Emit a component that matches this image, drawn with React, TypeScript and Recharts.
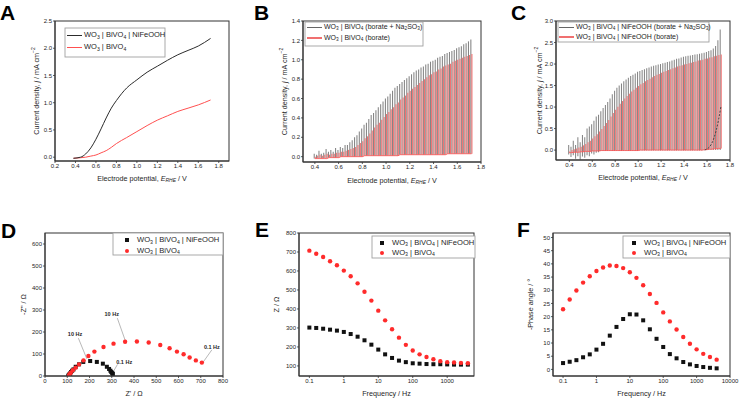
import React from "react";
import {
  Bar,
  ComposedChart,
  Label,
  Line,
  ReferenceDot,
  ReferenceLine,
  Scatter,
  XAxis,
  YAxis,
} from "recharts";

const FONT = '"Liberation Sans", Arial, Helvetica, sans-serif';
const INK = "#1e1e1e";
const LINE_BLACK = "#2c2c2c";
const LINE_RED = "#ff5050";
const CHOP_GRAY = "#858585";
const CHOP_RED = "#f07070";
const DOT_RED = "#ff2b2b";
const DOT_BLACK = "#111111";

// ---- A: linear sweep voltammetry
const lsvPotential = [0.38, 0.45, 0.5, 0.55, 0.6, 0.65, 0.7, 0.75, 0.8, 0.9, 1.0, 1.1, 1.2, 1.3, 1.4, 1.5, 1.6, 1.72];
const lsvNiFeOOH = [-0.02, 0.0, 0.06, 0.17, 0.33, 0.52, 0.72, 0.9, 1.04, 1.27, 1.42, 1.56, 1.67, 1.78, 1.88, 1.96, 2.04, 2.18];
const lsvBare = [-0.02, -0.01, 0.0, 0.02, 0.04, 0.08, 0.12, 0.18, 0.25, 0.36, 0.47, 0.58, 0.68, 0.76, 0.84, 0.9, 0.96, 1.05];

// ---- B, C: chopped light sweeps (one entry per light pulse)
const chopPotential = [
  0.4, 0.42, 0.44, 0.46, 0.48, 0.5, 0.52, 0.54, 0.56, 0.58,
  0.6, 0.62, 0.64, 0.66, 0.68, 0.7, 0.72, 0.74, 0.76, 0.78,
  0.8, 0.82, 0.84, 0.86, 0.88, 0.9, 0.92, 0.94, 0.96, 0.98,
  1.0, 1.02, 1.04, 1.06, 1.08, 1.1, 1.12, 1.14, 1.16, 1.18,
  1.2, 1.22, 1.24, 1.26, 1.28, 1.3, 1.32, 1.34, 1.36, 1.38,
  1.4, 1.42, 1.44, 1.46, 1.48, 1.5, 1.52, 1.54, 1.56, 1.58,
  1.6, 1.62, 1.64, 1.66, 1.68, 1.7, 1.72,
];
const bSulfite = [
  0.03, 0.02, 0.06, 0.03, 0.04, 0.08, 0.05, 0.07, 0.05, 0.09,
  0.07, 0.1, 0.09, 0.12, 0.12, 0.15, 0.17, 0.2, 0.22, 0.26,
  0.29, 0.33, 0.35, 0.39, 0.43, 0.45, 0.48, 0.51, 0.54, 0.57,
  0.6, 0.62, 0.65, 0.68, 0.71, 0.73, 0.75, 0.77, 0.79, 0.81,
  0.83, 0.85, 0.87, 0.89, 0.9, 0.92, 0.93, 0.95, 0.96, 0.98,
  0.99, 1.0, 1.02, 1.03, 1.04, 1.06, 1.07, 1.08, 1.09, 1.1,
  1.12, 1.13, 1.14, 1.16, 1.17, 1.19, 1.21,
];
const bBorate = [
  0.0, 0.01, 0.02, 0.01, 0.02, 0.03, 0.02, 0.03, 0.03, 0.04,
  0.04, 0.05, 0.05, 0.06, 0.07, 0.08, 0.09, 0.1, 0.12, 0.14,
  0.16, 0.19, 0.21, 0.24, 0.27, 0.3, 0.33, 0.35, 0.38, 0.41,
  0.44, 0.46, 0.49, 0.51, 0.54, 0.56, 0.59, 0.61, 0.63, 0.66,
  0.68, 0.7, 0.72, 0.74, 0.76, 0.78, 0.8, 0.82, 0.84, 0.85,
  0.87, 0.88, 0.9, 0.91, 0.93, 0.94, 0.95, 0.96, 0.98, 0.99,
  1.0, 1.01, 1.02, 1.03, 1.04, 1.05, 1.06,
];
const bDark = [
  -0.02, -0.02, -0.02, -0.02, -0.02, -0.02, -0.01, -0.01, -0.01, -0.01,
  -0.01, 0.0, 0.0, 0.0, 0.0, 0.0, 0.0, 0.0, 0.0, 0.0,
  0.0, 0.01, 0.01, 0.01, 0.01, 0.01, 0.01, 0.01, 0.01, 0.01,
  0.01, 0.01, 0.01, 0.01, 0.01, 0.01, 0.02, 0.02, 0.02, 0.02,
  0.02, 0.02, 0.02, 0.02, 0.02, 0.02, 0.02, 0.02, 0.02, 0.02,
  0.02, 0.02, 0.02, 0.02, 0.02, 0.02, 0.03, 0.03, 0.03, 0.03,
  0.03, 0.03, 0.03, 0.03, 0.03, 0.03, 0.03,
];
const cSulfite = [
  0.12, 0.08, 0.22, 0.12, 0.3, 0.18, 0.35, 0.3, 0.5, 0.55,
  0.6, 0.68, 0.78, 0.82, 0.9, 0.98, 1.05, 1.12, 1.2, 1.3,
  1.38, 1.45, 1.5, 1.55, 1.6, 1.64, 1.68, 1.72, 1.75, 1.78,
  1.82, 1.84, 1.86, 1.88, 1.9, 1.92, 1.94, 1.96, 1.97, 1.99,
  2.0, 2.02, 2.03, 2.05, 2.06, 2.08, 2.1, 2.12, 2.13, 2.15,
  2.17, 2.18, 2.19, 2.2, 2.21, 2.22, 2.23, 2.24, 2.25, 2.26,
  2.28, 2.3, 2.32, 2.36, 2.42, 2.55, 2.8,
];
const cSulfiteLow = [
  -0.1, -0.16, -0.12, -0.2, -0.14, -0.22, -0.15, -0.18, -0.12, -0.14,
  -0.08, -0.1, -0.06, -0.05, -0.02, -0.02, -0.02, -0.02, -0.02, -0.02,
  -0.02, -0.02, -0.02, -0.02, -0.02, -0.02, -0.02, -0.02, -0.02, -0.02,
  -0.02, -0.01, -0.01, -0.01, -0.01, -0.01, -0.01, -0.01, -0.01, -0.01,
  -0.01, -0.01, -0.01, -0.01, -0.01, -0.01, -0.01, -0.01, -0.01, -0.01,
  -0.01, -0.01, -0.01, -0.01, -0.01, -0.01, -0.01, -0.01, -0.01, 0.0,
  0.0, 0.0, 0.0, 0.0, 0.0, 0.0, 0.0,
];
const cBorate = [
  -0.03, 0.0, 0.02, 0.04, 0.06, 0.08, 0.11, 0.14, 0.18, 0.22,
  0.27, 0.32, 0.37, 0.43, 0.49, 0.56, 0.63, 0.7, 0.78, 0.86,
  0.94, 1.01, 1.08, 1.14, 1.2, 1.26, 1.31, 1.36, 1.4, 1.45,
  1.49, 1.53, 1.56, 1.6, 1.63, 1.66, 1.69, 1.72, 1.75, 1.77,
  1.8, 1.82, 1.84, 1.86, 1.88, 1.9, 1.92, 1.94, 1.96, 1.97,
  1.99, 2.0, 2.02, 2.03, 2.05, 2.06, 2.08, 2.09, 2.1, 2.12,
  2.13, 2.15, 2.16, 2.18, 2.19, 2.21, 2.22,
];
const cDark = [
  -0.06, -0.06, -0.05, -0.05, -0.05, -0.04, -0.04, -0.03, -0.03, -0.03,
  -0.02, -0.02, -0.02, -0.02, -0.01, -0.01, -0.01, -0.01, -0.01, -0.01,
  -0.01, -0.01, -0.01, -0.01, -0.01, -0.01, -0.01, -0.01, -0.01, -0.01,
  -0.01, 0.0, 0.0, 0.0, 0.0, 0.0, 0.0, 0.0, 0.0, 0.0,
  0.0, 0.0, 0.0, 0.0, 0.0, 0.0, 0.0, 0.0, 0.0, 0.0,
  0.0, 0.0, 0.0, 0.0, 0.0, 0.0, 0.0, 0.0, 0.0, 0.01,
  0.01, 0.02, 0.02, 0.03, 0.03, 0.04, 0.04,
];
const cOnsetPotential = [1.58, 1.6, 1.62, 1.64, 1.66, 1.68, 1.7, 1.72];
const cOnsetCurrent = [0.0, 0.03, 0.07, 0.15, 0.28, 0.46, 0.7, 1.0];

// ---- D: Nyquist
const nyqNiRe = [105, 107, 110, 113, 117, 122, 128, 138, 153, 172, 203, 233, 260, 278, 288, 294, 298, 302, 305];
const nyqNiIm = [1, 4, 8, 12, 18, 24, 30, 42, 53, 64, 68, 64, 56, 42, 32, 24, 18, 13, 10];
const nyqBareRe = [108, 110, 116, 125, 138, 153, 173, 195, 222, 263, 308, 360, 413, 466, 518, 560, 593, 623, 650, 678, 705];
const nyqBareIm = [3, 8, 15, 26, 38, 53, 71, 91, 111, 132, 147, 156, 157, 152, 141, 126, 111, 99, 84, 71, 61];
const nyquistNotes = [
  { text: "10 Hz", tx: 135, ty: 192, x1: 150, y1: 172, x2: 188, y2: 78 },
  { text: "10 Hz", tx: 300, ty: 281, x1: 325, y1: 263, x2: 360, y2: 163 },
  { text: "0.1 Hz", tx: 356, ty: 64, x1: 326, y1: 53, x2: 302, y2: 11 },
  { text: "0.1 Hz", tx: 750, ty: 133, x1: 750, y1: 119, x2: 710, y2: 62 },
];

// ---- E, F: Bode
const bodeFreq = [0.1, 0.158, 0.251, 0.398, 0.631, 1, 1.58, 2.51, 3.98, 6.31, 10, 15.8, 25.1, 39.8, 63.1, 100, 158, 251, 398, 631, 1000, 1580, 2510, 3980];
const bodeZNi = [302, 300, 296, 291, 286, 279, 268, 254, 235, 212, 186, 161, 142, 128, 120, 114, 112, 110, 109, 109, 108, 107, 107, 107];
const bodeZBare = [707, 691, 674, 651, 630, 602, 572, 535, 491, 444, 391, 340, 293, 249, 211, 181, 161, 147, 135, 125, 120, 118, 116, 114];
const phaseNi = [2.4, 2.9, 3.5, 4.6, 5.7, 7.5, 9.7, 12.8, 16.1, 19.1, 20.9, 20.8, 18.6, 15.2, 11.6, 8.5, 5.8, 4.2, 2.8, 1.9, 1.3, 0.9, 0.6, 0.4];
const phaseBare = [22.8, 26.5, 29.9, 32.9, 35.3, 37.3, 38.6, 39.4, 39.2, 38.4, 36.8, 34.7, 31.9, 28.6, 25.2, 21.6, 18.2, 15.1, 12.3, 9.7, 7.6, 5.9, 4.7, 3.7];

// ---- tick labels
const potTicksA = [0.2, 0.4, 0.6, 0.8, 1.0, 1.2, 1.4, 1.6, 1.8];
const potTicksBC = [0.4, 0.6, 0.8, 1.0, 1.2, 1.4, 1.6, 1.8];
const jTicksA = [0, 0.5, 1.0, 1.5, 2.0, 2.5];
const jTicksB = [0, 0.2, 0.4, 0.6, 0.8, 1.0, 1.2, 1.4];
const jTicksC = [0, 0.5, 1.0, 1.5, 2.0, 2.5, 3.0];
const zReTicks = [0, 100, 200, 300, 400, 500, 600, 700, 800];
const zImTicks = [0, 100, 200, 300, 400, 500, 600];
const freqTicksE = [0.1, 1, 10, 100, 1000];
const freqTicksF = [0.1, 1, 10, 100, 1000, 10000];
const zModTicks = [100, 200, 300, 400, 500, 600, 700, 800];
const phaseTicks = [0, 5, 10, 15, 20, 25, 30, 35, 40, 45, 50];

const f1 = (v: number) => v.toFixed(1);

const axisProps = {
  tick: { fontSize: 6, fill: INK, fontFamily: FONT },
  tickSize: 2,
  tickMargin: 1,
  axisLine: { stroke: "#333", strokeWidth: 1 },
  tickLine: { stroke: "#333", strokeWidth: 0.8 },
  interval: 0 as const,
  allowDataOverflow: true,
};

const TITLE_SIZE = 7.2;
const Y_W = 40;

type Margin = { top: number; right: number; bottom: number; left: number };

// svg box outline, drawn over an absolutely placed area
function Outline({ left, top, width, height, color, sw }: { left: number; top: number; width: number; height: number; color: string; sw: number }) {
  return (
    <svg
      width={width + 2}
      height={height + 2}
      style={{ position: "absolute", left: left - 1, top: top - 1, pointerEvents: "none", overflow: "visible" }}
    >
      <rect x={1} y={1} width={width} height={height} fill="none" stroke={color} strokeWidth={sw} />
    </svg>
  );
}

// box line around the plot area, computed from the same margins as the chart
function PlotFrame({ w, h, m, xh }: { w: number; h: number; m: Margin; xh: number }) {
  const left = m.left + Y_W;
  const right = w - m.right;
  const bottom = h - m.bottom - xh;
  return <Outline left={left} top={m.top} width={right - left} height={bottom - m.top} color="#333" sw={1} />;
}

function xTitle(children: React.ReactNode, dy: number) {
  return (props: any) => {
    const vb = props.viewBox;
    return (
      <text
        x={vb.x + vb.width / 2}
        y={vb.y + dy}
        textAnchor="middle"
        dominantBaseline="central"
        fontSize={TITLE_SIZE}
        fontFamily={FONT}
        fill={INK}
      >
        {children}
      </text>
    );
  };
}

function yTitle(children: React.ReactNode, off: number) {
  return (props: any) => {
    const vb = props.viewBox;
    const cx = vb.x + vb.width - off;
    const cy = vb.y + vb.height / 2;
    return (
      <text
        transform={`translate(${cx},${cy}) rotate(-90)`}
        textAnchor="middle"
        dominantBaseline="central"
        fontSize={TITLE_SIZE}
        fontFamily={FONT}
        fill={INK}
      >
        {children}
      </text>
    );
  };
}

const potentialTitle = (
  <>
    <tspan>Electrode potential, </tspan>
    <tspan fontStyle="italic">E</tspan>
    <tspan fontStyle="italic" fontSize={5} dy={2}>RHE</tspan>
    <tspan dy={-2}> / V</tspan>
  </>
);

const currentTitle = (
  <>
    <tspan>Current density, </tspan>
    <tspan fontStyle="italic">j</tspan>
    <tspan> / mA cm</tspan>
    <tspan fontSize={5} dy={-3}>−2</tspan>
  </>
);

const square = (p: any) => (
  <rect x={p.cx - 2} y={p.cy - 2} width={4} height={4} fill={DOT_BLACK} />
);
const circle = (p: any) => <circle cx={p.cx} cy={p.cy} r={2.2} fill={DOT_RED} />;

function Sub({ children }: { children: React.ReactNode }) {
  return (
    <span style={{ fontSize: "0.68em", position: "relative", top: "0.3em" }}>
      {children}
    </span>
  );
}

const NameNi = (
  <>
    WO<Sub>3</Sub> | BiVO<Sub>4</Sub> | NiFeOOH
  </>
);
const NameBare = (
  <>
    WO<Sub>3</Sub> | BiVO<Sub>4</Sub>
  </>
);

type LegendRow = {
  mark: "line" | "square" | "circle";
  color: string;
  weight?: number;
  label: React.ReactNode;
};

function LegendBox(props: {
  left: number;
  top: number;
  width: number;
  height: number;
  rowTop: number;
  rowGap: number;
  markLeft: number;
  markWidth: number;
  textLeft: number;
  fontSize: number;
  rows: LegendRow[];
}) {
  const { left, top, width, height, rowTop, rowGap, markLeft, markWidth, textLeft, fontSize, rows } = props;
  return (
    <div
      style={{
        position: "absolute",
        left,
        top,
        width,
        height,
        background: "#fff",
        fontFamily: FONT,
        fontSize,
        color: INK,
      }}
    >
      <Outline left={0} top={0} width={width} height={height} color="#a0a0a0" sw={0.9} />
      {rows.map((r, i) => {
        const cy = rowTop + i * rowGap;
        return (
          <React.Fragment key={i}>
            {r.mark === "line" ? (
              <div
                style={{
                  position: "absolute",
                  left: markLeft,
                  top: cy - (r.weight ?? 1) / 2,
                  width: markWidth,
                  height: r.weight ?? 1,
                  background: r.color,
                }}
              />
            ) : (
              <div
                style={{
                  position: "absolute",
                  left: markLeft - 2,
                  top: cy - 2,
                  width: 4,
                  height: 4,
                  background: r.color,
                  borderRadius: r.mark === "circle" ? "50%" : 0,
                }}
              />
            )}
            <div
              style={{
                position: "absolute",
                left: textLeft,
                top: cy,
                transform: "translateY(-50%)",
                whiteSpace: "nowrap",
                lineHeight: 1,
              }}
            >
              {r.label}
            </div>
          </React.Fragment>
        );
      })}
    </div>
  );
}

function Letter({ ch, x, y }: { ch: string; x: number; y: number }) {
  return (
    <div
      style={{
        position: "absolute",
        left: x,
        top: y,
        fontFamily: FONT,
        fontWeight: 700,
        fontSize: 21,
        lineHeight: 1,
        color: "#000",
      }}
    >
      {ch}
    </div>
  );
}

function PanelA() {
  const rows = lsvPotential.map((e, i) => ({ e, ni: lsvNiFeOOH[i], bare: lsvBare[i] }));
  const m = { top: 21, right: 16, bottom: 9, left: 15 };
  return (
    <div style={{ position: "absolute", left: 0, top: 0, width: 245, height: 200 }}>
      <ComposedChart width={245} height={200} data={rows} margin={m}>
        <XAxis dataKey="e" type="number" domain={[0.2, 1.9]} ticks={potTicksA} tickFormatter={f1} height={30} {...axisProps}>
          <Label content={xTitle(potentialTitle, 17)} />
        </XAxis>
        <YAxis type="number" domain={[-0.07, 2.5]} ticks={jTicksA} tickFormatter={f1} width={Y_W} {...axisProps}>
          <Label content={yTitle(currentTitle, 19)} />
        </YAxis>
        <Line type="monotone" dataKey="bare" stroke={LINE_RED} strokeWidth={1} dot={false} isAnimationActive={false} />
        <Line type="monotone" dataKey="ni" stroke={LINE_BLACK} strokeWidth={1} dot={false} isAnimationActive={false} />
      </ComposedChart>
      <PlotFrame w={245} h={200} m={m} xh={30} />
    </div>
  );
}

function chopRows(sulfite: number[], sulfiteLow: number[], borate: number[], dark: number[]) {
  return chopPotential.map((e, i) => ({
    e,
    sulfite: [sulfiteLow[i], sulfite[i]],
    borate: [dark[i], borate[i]],
    dark: dark[i],
  }));
}

function PanelB() {
  const rows = chopRows(bSulfite, bDark, bBorate, bDark);
  const m = { top: 21, right: 9, bottom: 8, left: 18 };
  return (
    <div style={{ position: "absolute", left: 245, top: 0, width: 245, height: 200 }}>
      <ComposedChart width={245} height={200} data={rows} barGap={0} barCategoryGap={0} margin={m}>
        <XAxis dataKey="e" type="number" domain={[0.3, 1.8]} ticks={potTicksBC} tickFormatter={f1} height={30} {...axisProps}>
          <Label content={xTitle(potentialTitle, 18)} />
        </XAxis>
        <YAxis type="number" domain={[-0.055, 1.4]} ticks={jTicksB} tickFormatter={f1} width={Y_W} {...axisProps}>
          <Label content={yTitle(currentTitle, 19)} />
        </YAxis>
        <Bar dataKey="sulfite" fill={CHOP_GRAY} barSize={1.3} isAnimationActive={false} />
        <Bar dataKey="borate" fill={CHOP_RED} barSize={1.3} isAnimationActive={false} />
        <Line type="linear" dataKey="dark" stroke={LINE_RED} strokeWidth={0.8} dot={false} isAnimationActive={false} />
      </ComposedChart>
      <PlotFrame w={245} h={200} m={m} xh={30} />
    </div>
  );
}

function PanelC() {
  const rows = chopRows(cSulfite, cSulfiteLow, cBorate, cDark);
  const onset = cOnsetPotential.map((e, i) => ({ e, onset: cOnsetCurrent[i] }));
  const m = { top: 21, right: 9, bottom: 10, left: 26 };
  return (
    <div style={{ position: "absolute", left: 490, top: 0, width: 249, height: 200 }}>
      <ComposedChart width={249} height={200} data={rows} barGap={0} barCategoryGap={0} margin={m}>
        <XAxis dataKey="e" type="number" domain={[0.284, 1.8]} ticks={potTicksBC} tickFormatter={f1} height={30} {...axisProps}>
          <Label content={xTitle(potentialTitle, 17)} />
        </XAxis>
        <YAxis type="number" domain={[-0.23, 3.0]} ticks={jTicksC} tickFormatter={f1} width={Y_W} {...axisProps}>
          <Label content={yTitle(currentTitle, 17)} />
        </YAxis>
        <Bar dataKey="sulfite" fill={CHOP_GRAY} barSize={1.3} isAnimationActive={false} />
        <Bar dataKey="borate" fill={CHOP_RED} barSize={1.3} isAnimationActive={false} />
        <Line type="linear" dataKey="dark" stroke={LINE_RED} strokeWidth={0.8} dot={false} isAnimationActive={false} />
        <Line data={onset} type="monotone" dataKey="onset" stroke="#3a3a3a" strokeWidth={0.9} strokeDasharray="2 1.5" dot={false} isAnimationActive={false} />
      </ComposedChart>
      <PlotFrame w={249} h={200} m={m} xh={30} />
    </div>
  );
}

function PanelD() {
  const ni = nyqNiRe.map((x, i) => ({ x, y: nyqNiIm[i] }));
  const bare = nyqBareRe.map((x, i) => ({ x, y: nyqBareIm[i] }));
  const m = { top: 33, right: 22, bottom: 3, left: 5 };
  return (
    <div style={{ position: "absolute", left: 0, top: 200, width: 245, height: 199 }}>
      <ComposedChart width={245} height={199} margin={m}>
        <XAxis dataKey="x" type="number" domain={[0, 800]} ticks={zReTicks} height={20} {...axisProps}>
          <Label content={xTitle(<tspan>Z' / Ω</tspan>, 17)} />
        </XAxis>
        <YAxis dataKey="y" type="number" domain={[0, 650]} ticks={zImTicks} width={Y_W} {...axisProps}>
          <Label content={yTitle(<tspan>-Z'' / Ω</tspan>, 22)} />
        </YAxis>
        {nyquistNotes.map((n, i) => (
          <ReferenceLine
            key={`l${i}`}
            segment={[{ x: n.x1, y: n.y1 }, { x: n.x2, y: n.y2 }]}
            stroke="#9a9a9a"
            strokeWidth={0.7}
          />
        ))}
        <Scatter data={ni} dataKey="y" shape={square} isAnimationActive={false} />
        <Scatter data={bare} dataKey="y" shape={circle} isAnimationActive={false} />
        {nyquistNotes.map((n, i) => (
          <ReferenceDot
            key={`t${i}`}
            x={n.tx}
            y={n.ty}
            r={0}
            fill="none"
            stroke="none"
            label={{ value: n.text, position: "center", fontSize: 5.5, fontWeight: 700, fill: INK, fontFamily: FONT }}
          />
        ))}
      </ComposedChart>
      <PlotFrame w={245} h={199} m={m} xh={20} />
    </div>
  );
}

function PanelE() {
  const ni = bodeFreq.map((f, i) => ({ f, z: bodeZNi[i] }));
  const bare = bodeFreq.map((f, i) => ({ f, z: bodeZBare[i] }));
  const m = { top: 33, right: 16, bottom: 3, left: 14 };
  return (
    <div style={{ position: "absolute", left: 245, top: 200, width: 245, height: 199 }}>
      <ComposedChart width={245} height={199} margin={m}>
        <XAxis dataKey="f" type="number" scale="log" domain={[0.05, 6000]} ticks={freqTicksE} tickFormatter={(v: number) => String(v)} height={20} {...axisProps}>
          <Label content={xTitle(<tspan>Frequency / Hz</tspan>, 17)} />
        </XAxis>
        <YAxis dataKey="z" type="number" domain={[47, 800]} ticks={zModTicks} width={Y_W} {...axisProps}>
          <Label content={yTitle(<tspan>Z / Ω</tspan>, 23)} />
        </YAxis>
        <Scatter data={ni} dataKey="z" shape={square} isAnimationActive={false} />
        <Scatter data={bare} dataKey="z" shape={circle} isAnimationActive={false} />
      </ComposedChart>
      <PlotFrame w={245} h={199} m={m} xh={20} />
    </div>
  );
}

function PanelF() {
  const ni = bodeFreq.map((f, i) => ({ f, p: phaseNi[i] }));
  const bare = bodeFreq.map((f, i) => ({ f, p: phaseBare[i] }));
  const m = { top: 33, right: 9, bottom: 3, left: 23 };
  return (
    <div style={{ position: "absolute", left: 490, top: 200, width: 249, height: 199 }}>
      <ComposedChart width={249} height={199} margin={m}>
        <XAxis dataKey="f" type="number" scale="log" domain={[0.05, 10000]} ticks={freqTicksF} tickFormatter={(v: number) => String(v)} height={20} {...axisProps}>
          <Label content={xTitle(<tspan>Frequency / Hz</tspan>, 17)} />
        </XAxis>
        <YAxis dataKey="p" type="number" domain={[-2.5, 51.7]} ticks={phaseTicks} width={Y_W} {...axisProps}>
          <Label content={yTitle(<tspan>-Phase angle / °</tspan>, 23)} />
        </YAxis>
        <Scatter data={ni} dataKey="p" shape={square} isAnimationActive={false} />
        <Scatter data={bare} dataKey="p" shape={circle} isAnimationActive={false} />
      </ComposedChart>
      <PlotFrame w={249} h={199} m={m} xh={20} />
    </div>
  );
}

export default function App() {
  return (
    <div
      style={{
        position: "absolute",
        left: 0,
        top: 0,
        width: 739,
        height: 399,
        background: "#fff",
        overflow: "hidden",
        fontFamily: FONT,
      }}
    >
      <PanelA />
      <PanelB />
      <PanelC />
      <PanelD />
      <PanelE />
      <PanelF />

      <Letter ch="A" x={0} y={2} />
      <Letter ch="B" x={254} y={2} />
      <Letter ch="C" x={511} y={2} />
      <Letter ch="D" x={1} y={220} />
      <Letter ch="E" x={255} y={219} />
      <Letter ch="F" x={517} y={219} />

      <LegendBox
        left={65} top={28} width={100} height={29} rowTop={7} rowGap={12.4}
        markLeft={2} markWidth={15} textLeft={19} fontSize={7.5}
        rows={[
          { mark: "line", color: LINE_BLACK, label: NameNi },
          { mark: "line", color: LINE_RED, label: NameBare },
        ]}
      />
      <LegendBox
        left={305} top={22} width={118} height={24} rowTop={5} rowGap={11}
        markLeft={1.5} markWidth={15} textLeft={19} fontSize={7}
        rows={[
          { mark: "line", color: "#666", label: <>WO<Sub>3</Sub> | BiVO<Sub>4</Sub> (borate + Na<Sub>2</Sub>SO<Sub>3</Sub>)</> },
          { mark: "line", color: CHOP_RED, weight: 1.6, label: <>WO<Sub>3</Sub> | BiVO<Sub>4</Sub> (borate)</> },
        ]}
      />
      <LegendBox
        left={558} top={22} width={151} height={20} rowTop={5} rowGap={10}
        markLeft={1} markWidth={15} textLeft={18} fontSize={7}
        rows={[
          { mark: "line", color: "#666", label: <>WO<Sub>3</Sub> | BiVO<Sub>4</Sub> | NiFeOOH (borate + Na<Sub>2</Sub>SO<Sub>3</Sub>)</> },
          { mark: "line", color: CHOP_RED, weight: 1.6, label: <>WO<Sub>3</Sub> | BiVO<Sub>4</Sub> | NiFeOOH (borate)</> },
        ]}
      />
      <LegendBox
        left={113} top={233} width={110} height={22} rowTop={7} rowGap={10.7}
        markLeft={14} markWidth={0} textLeft={24} fontSize={7.6}
        rows={[
          { mark: "square", color: DOT_BLACK, label: NameNi },
          { mark: "circle", color: DOT_RED, label: NameBare },
        ]}
      />
      <LegendBox
        left={372} top={236} width={103} height={22} rowTop={6.5} rowGap={10}
        markLeft={10} markWidth={0} textLeft={20} fontSize={7.6}
        rows={[
          { mark: "square", color: DOT_BLACK, label: NameNi },
          { mark: "circle", color: DOT_RED, label: NameBare },
        ]}
      />
      <LegendBox
        left={623} top={236} width={107} height={22} rowTop={6.5} rowGap={10}
        markLeft={11} markWidth={0} textLeft={21} fontSize={7.6}
        rows={[
          { mark: "square", color: DOT_BLACK, label: NameNi },
          { mark: "circle", color: DOT_RED, label: NameBare },
        ]}
      />
    </div>
  );
}
